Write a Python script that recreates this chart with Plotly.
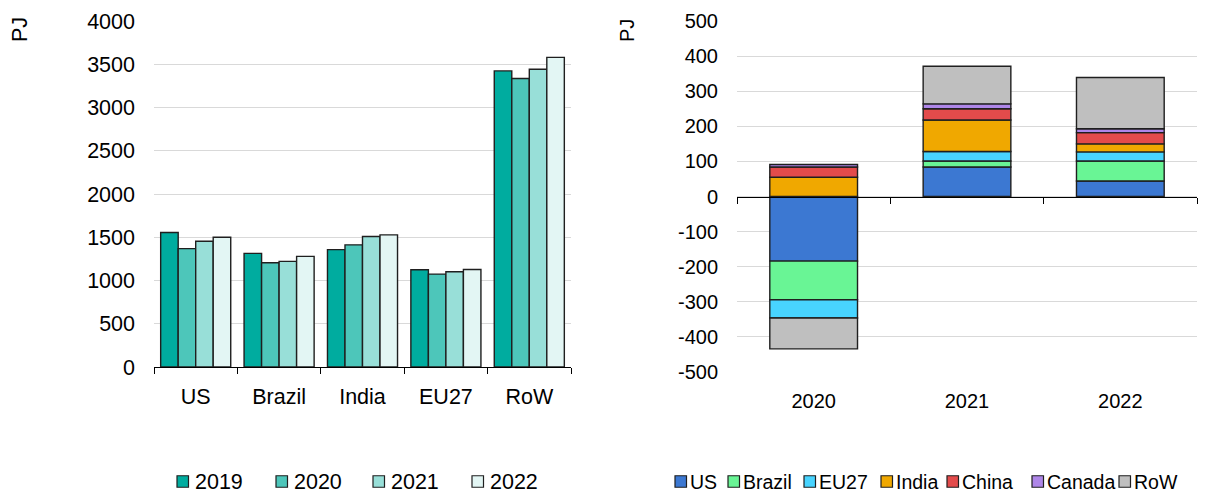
import plotly.graph_objects as go

# ---------------- data ----------------
regions = ["US", "Brazil", "India", "EU27", "RoW"]
years_left = ["2019", "2020", "2021", "2022"]
v2019 = [1555, 1314, 1357, 1124, 3423]
v2020 = [1369, 1206, 1412, 1074, 3336]
v2021 = [1453, 1221, 1508, 1101, 3443]
v2022 = [1500, 1279, 1528, 1128, 3580]
left_values = [v2019, v2020, v2021, v2022]

years_right = ["2020", "2021", "2022"]
series_right = ["US", "Brazil", "EU27", "India", "China", "Canada", "RoW"]
us = [-184, 84, 44]
brazil = [-110, 17, 57]
eu27 = [-52, 27, 26]
india = [55, 90, 23]
china = [29, 32, 32]
canada = [7, 14, 11]
row = [-88, 107, 146]
right_values = [us, brazil, eu27, india, china, canada, row]

left_ticks = [0, 500, 1000, 1500, 2000, 2500, 3000, 3500, 4000]
right_ticks = [-500, -400, -300, -200, -100, 0, 100, 200, 300, 400, 500]
right_tick_labels = [str(v) for v in right_ticks]

# ---------------- styles ----------------
left_colors = ["#00AC9F", "#4DC6BA", "#98DFD8", "#E3F6F4"]
right_colors = ["#3C78D2", "#69F595", "#48D4FF", "#F0A800", "#E34B4B", "#AE86E8", "#BFBFBF"]
W, H = 1213, 498
OFF = 8  # page body margin offset
FONT = "Liberation Sans, Arial, sans-serif"
FS_L = 21.5
FS_R = 20
FS_RLEG = 19.5
OUTLINE = "#1F1F1F"
GRID = "#D9D9D9"


def px(x):
    return (x - OFF) / W


def py(y):
    return 1 - (y - OFF) / H


fig = go.Figure()

for i, (name, vals, col) in enumerate(zip(years_left, left_values, left_colors)):
    fig.add_trace(go.Bar(
        x=regions, y=vals, name=name, xaxis="x", yaxis="y",
        marker=dict(color=col, line=dict(color=OUTLINE, width=1.4)),
        showlegend=False, offsetgroup="L%d" % i,
    ))

for name, vals, col in zip(series_right, right_values, right_colors):
    fig.add_trace(go.Bar(
        x=years_right, y=vals, name=name, xaxis="x2", yaxis="y2",
        marker=dict(color=col, line=dict(color=OUTLINE, width=1.4)),
        showlegend=False, offsetgroup="R", width=0.572,
    ))

# invisible helper trace so the zero-positioned category axis renders
fig.add_trace(go.Scatter(
    x=years_right, y=[0, 0, 0], xaxis="x3", yaxis="y2",
    mode="markers", marker=dict(opacity=0), hoverinfo="skip", showlegend=False,
))

zero_pos = py(21 + (372 - 21) / 2)

fig.update_layout(
    template="none",
    width=W, height=H,
    margin=dict(l=0, r=0, t=0, b=0, pad=0),
    paper_bgcolor="white", plot_bgcolor="white",
    font=dict(family=FONT, size=FS_R, color="#000000"),
    showlegend=False,
    barmode="relative",
    bargap=0.16, bargroupgap=0,
    xaxis=dict(
        domain=[px(154), px(571)], anchor="y", automargin=False,
        type="category", categoryorder="array", categoryarray=regions,
        showline=True, linecolor="#000000", linewidth=1.3,
        ticks="outside", tickson="boundaries", ticklen=6, tickwidth=1.3, tickcolor="#000000",
        ticklabelstandoff=10, showgrid=False, tickfont=dict(size=FS_L),
    ),
    yaxis=dict(
        domain=[py(367), py(21)], anchor="x", automargin=False,
        range=[0, 4000], tickvals=left_ticks,
        showgrid=True, gridcolor=GRID, gridwidth=1,
        zeroline=False, showline=False, ticks="",
        ticklabelstandoff=18, tickfont=dict(size=FS_L),
    ),
    xaxis2=dict(
        domain=[px(737), px(1197)], anchor="y2", automargin=False,
        type="category", categoryorder="array", categoryarray=years_right,
        range=[-0.5, 2.5],
        showline=False, ticks="", showgrid=False,
        ticklabelstandoff=15,
    ),
    xaxis3=dict(
        domain=[px(737), px(1197)], overlaying="x2", anchor="free", position=zero_pos,
        automargin=False,
        type="category", categoryorder="array", categoryarray=years_right,
        range=[-0.5, 2.5], matches="x2",
        showline=True, linecolor="#000000", linewidth=1.3,
        ticks="outside", tickson="boundaries", ticklen=6, tickwidth=1.3, tickcolor="#000000",
        showticklabels=False, showgrid=False,
    ),
    yaxis2=dict(
        domain=[py(372), py(21)], anchor="x2", automargin=False,
        range=[-500, 500], tickvals=right_ticks, ticktext=right_tick_labels,
        showgrid=True, gridcolor=GRID, gridwidth=1,
        zeroline=False, showline=False, ticks="",
        ticklabelstandoff=18,
    ),
)

annotations = [
    dict(text="PJ", x=px(20), y=py(30), xref="paper", yref="paper", textangle=-90,
         showarrow=False, xanchor="center", yanchor="middle", font=dict(size=FS_L)),
    dict(text="PJ", x=px(627), y=py(31), xref="paper", yref="paper", textangle=-90,
         showarrow=False, xanchor="center", yanchor="middle", font=dict(size=FS_R)),
]
shapes = []

# manual legends
left_legend_x = [177, 276, 373, 472]
right_legend_x = [675, 728, 804, 881, 947, 1032, 1119]
box = 11.5
legend_y = 481.5


def add_legend(names, colors, xs, gap, size):
    for name, col, x in zip(names, colors, xs):
        shapes.append(dict(
            type="rect", xref="paper", yref="paper",
            x0=px(x), x1=px(x + box), y0=py(legend_y + box / 2), y1=py(legend_y - box / 2),
            fillcolor=col, line=dict(color=OUTLINE, width=1.2),
        ))
        annotations.append(dict(
            text=name, x=px(x + gap), y=py(legend_y), xref="paper", yref="paper",
            showarrow=False, xanchor="left", yanchor="middle", font=dict(size=size),
            borderpad=0,
        ))


add_legend(years_left, left_colors, left_legend_x, 17, FS_L)
add_legend(series_right, right_colors, right_legend_x, 14, FS_RLEG)

fig.update_layout(annotations=annotations, shapes=shapes)

fig.write_html("out.html")
